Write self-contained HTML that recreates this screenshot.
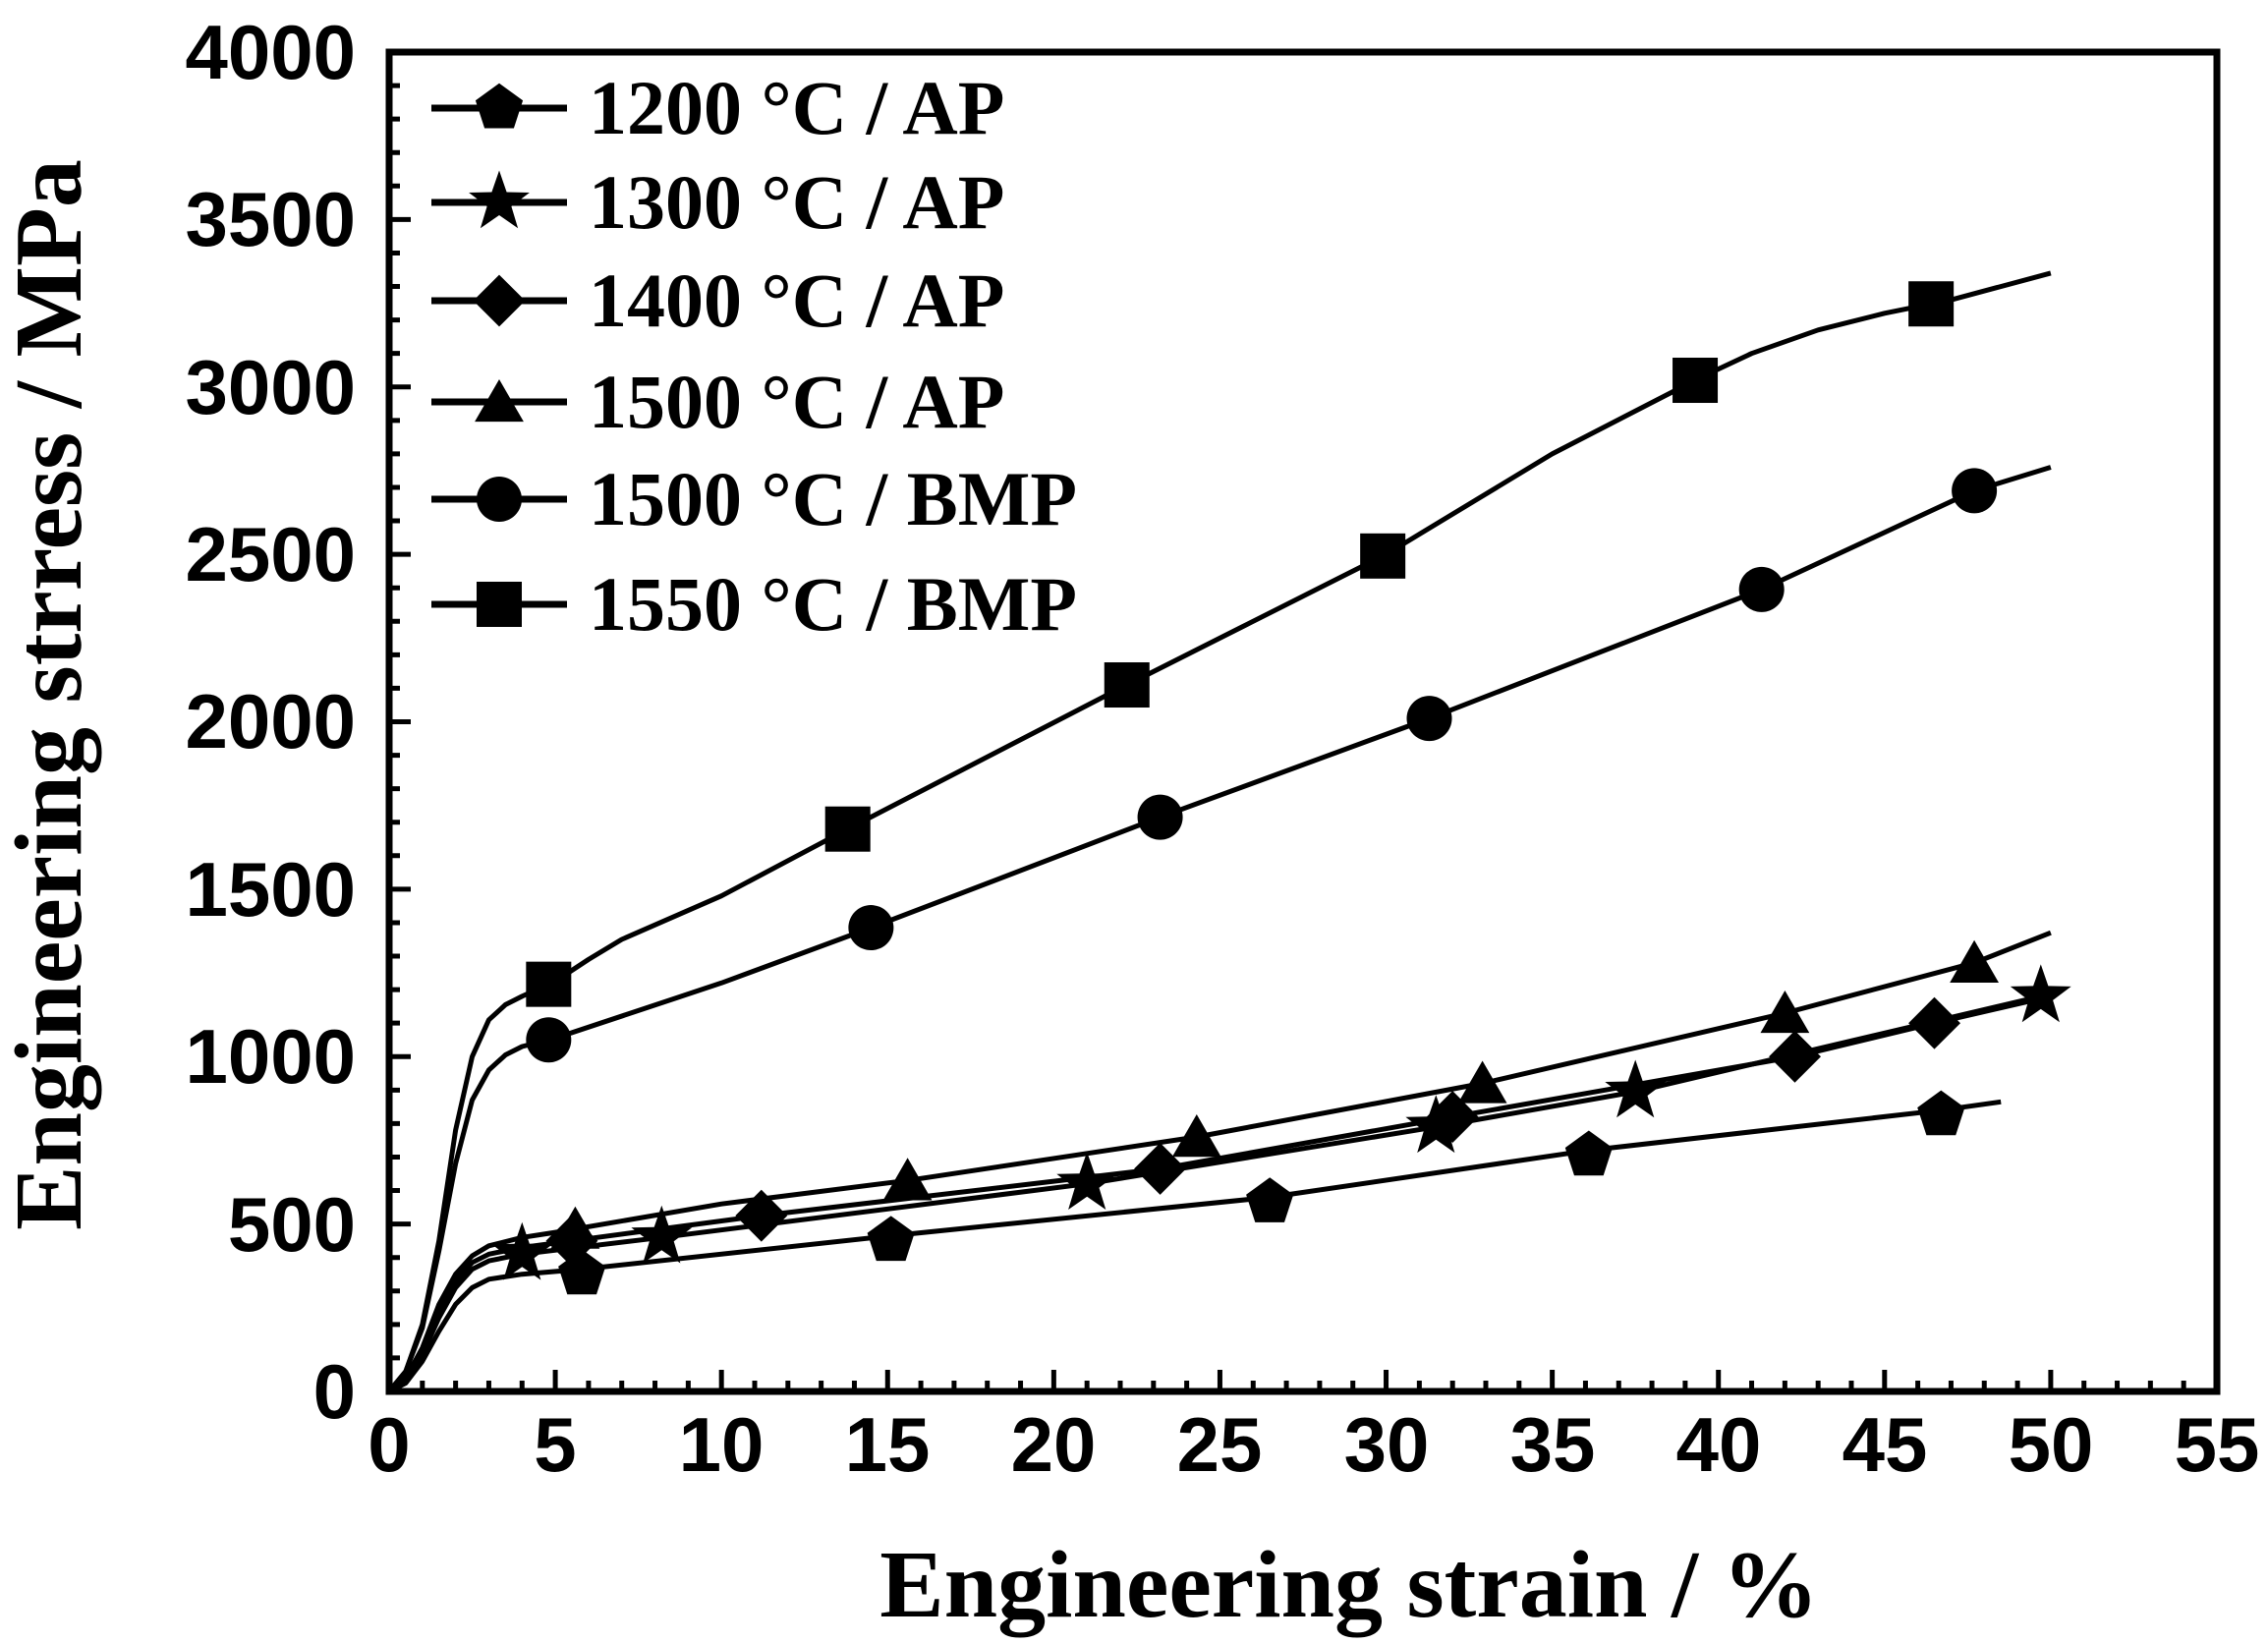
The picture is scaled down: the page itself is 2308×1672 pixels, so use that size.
<!DOCTYPE html>
<html><head><meta charset="utf-8"><style>
html,body{margin:0;padding:0;background:#fff}
svg{display:block}
.tl{font-family:"Liberation Sans",Arial,sans-serif;font-weight:bold;font-size:78px}
.lg{font-family:"Liberation Serif",serif;font-weight:bold;font-size:78px}
.at{font-family:"Liberation Serif",serif;font-weight:bold;font-size:98px}
</style></head><body>
<svg id="s" width="2308" height="1672" viewBox="0 0 2308 1672" xmlns="http://www.w3.org/2000/svg">
<rect x="0" y="0" width="2308" height="1672" fill="#fff"/>
<g id="ticks"></g>
<g id="curves" fill="none" stroke="#000" stroke-width="5"></g>
<g id="marks" fill="#000"></g>
<rect x="396" y="53" width="1860" height="1363" fill="none" stroke="#000" stroke-width="7"/>
<g class="tl" text-anchor="end">
<text x="362" y="1443">0</text>
<text x="362" y="1273">500</text>
<text x="362" y="1102">1000</text>
<text x="362" y="932">1500</text>
<text x="362" y="761">2000</text>
<text x="362" y="591">2500</text>
<text x="362" y="421">3000</text>
<text x="362" y="250">3500</text>
<text x="362" y="80">4000</text>
</g>
<g class="tl" text-anchor="middle">
<text x="396" y="1497">0</text>
<text x="565" y="1497">5</text>
<text x="734" y="1497">10</text>
<text x="903" y="1497">15</text>
<text x="1072" y="1497">20</text>
<text x="1241" y="1497">25</text>
<text x="1411" y="1497">30</text>
<text x="1580" y="1497">35</text>
<text x="1749" y="1497">40</text>
<text x="1918" y="1497">45</text>
<text x="2087" y="1497">50</text>
<text x="2256" y="1497">55</text>
</g>
<text class="at" x="1373" y="1645" text-anchor="middle">Engineering strain / %</text>
<text class="at" transform="translate(82,707) rotate(-90)" text-anchor="middle">Engineering strress / MPa</text>
<g class="lg">
<text x="599" y="136">1200 °C / AP</text>
<text x="599" y="232">1300 °C / AP</text>
<text x="599" y="332">1400 °C / AP</text>
<text x="599" y="435">1500 °C / AP</text>
<text x="599" y="534">1500 °C / BMP</text>
<text x="599" y="641">1550 °C / BMP</text>
</g>
<g id="leg" stroke="#000" stroke-width="7"></g>
</svg>
<script>
var NS="http://www.w3.org/2000/svg";
function X(v){return 396+v*33.818;}
function Y(v){return 1416-v*0.34075;}
function el(p,t,a){var e=document.createElementNS(NS,t);for(var k in a)e.setAttribute(k,a[k]);p.appendChild(e);return e;}
var tk=document.getElementById('ticks'),d="";
for(var i=1;i<55;i++){var L=(i%5==0)?22:11;d+="M"+X(i)+" 1416V"+(1416-L);}
for(var j=100;j<4000;j+=100){var L=(j%500==0)?22:11;d+="M396 "+Y(j)+"H"+(396+L);}
el(tk,'path',{d:d,stroke:'#000','stroke-width':5,fill:'none'});
function mark(g,type,cx,cy,s){
 s=s||23;
 if(type=='sq')el(g,'rect',{x:cx-s,y:cy-s,width:2*s,height:2*s});
 else if(type=='ci')el(g,'circle',{cx:cx,cy:cy,r:s});
 else{var n,r1,r2,pts=[];
  if(type=='tri'){n=3;r1=s*1.25;r2=null;}
  if(type=='dia'){n=4;r1=s*1.15;r2=null;}
  if(type=='pen'){n=5;r1=s*1.1;r2=null;}
  if(type=='star'){n=5;r1=s*1.25;r2=s*0.5;}
  var m=r2?2*n:n;
  for(var k=0;k<m;k++){var r=(r2&&k%2)?r2:r1;var a=-Math.PI/2+k*2*Math.PI/m;pts.push((cx+r*Math.cos(a)).toFixed(1)+","+(cy+r*Math.sin(a)+(type=='tri'?s*0.25:0)).toFixed(1));}
  el(g,'polygon',{points:pts.join(' ')});}
}
function interp(pts,x){for(var i=0;i<pts.length-1;i++){if(x>=pts[i][0]&&x<=pts[i+1][0]){var t=(x-pts[i][0])/(pts[i+1][0]-pts[i][0]);return pts[i][1]+t*(pts[i+1][1]-pts[i][1]);}}return pts[pts.length-1][1];}
var series=[
 {t:'sq',p:[[0,0],[0.5,60],[1,200],[1.5,450],[2,780],[2.5,1000],[3,1110],[3.5,1155],[4,1180],[5,1225],[6,1290],[7,1350],[10,1480],[14,1690],[22,2100],[30,2500],[35,2800],[39.5,3030],[41,3100],[43,3170],[45,3220],[47,3260],[50,3340]],m:[4.8,13.8,22.2,29.9,39.3,46.4]},
 {t:'ci',p:[[0,0],[0.5,60],[1,190],[1.5,420],[2,680],[2.5,870],[3,960],[3.5,1005],[4,1030],[5,1055],[10,1220],[14.5,1385],[23.2,1715],[31.3,2010],[41.3,2395],[47.7,2690],[50,2760]],m:[4.8,14.5,23.2,31.3,41.3,47.7]},
 {t:'tri',p:[[0,0],[0.5,40],[1,130],[1.5,260],[2,350],[2.5,405],[3,435],[4,460],[5,475],[10,560],[15.6,630],[24.3,760],[32.9,920],[42,1130],[47.7,1280],[50,1370]],m:[5.6,15.6,24.3,32.9,42,47.7]},
 {t:'dia',p:[[0,0],[0.5,35],[1,120],[1.5,240],[2,330],[2.5,385],[3,410],[4,430],[5.5,450],[11.2,525],[23.2,665],[32,820],[42.3,1000],[46.5,1100],[50,1180]],m:[5.5,11.2,23.2,32,42.3,46.5]},
 {t:'star',p:[[0,0],[0.5,30],[1,110],[1.5,220],[2,310],[2.5,365],[3,390],[4,410],[8.2,460],[21,620],[31.5,790],[37.5,895],[49.7,1180]],m:[4,8.2,21,31.5,37.5,49.7]},
 {t:'pen',p:[[0,0],[0.5,25],[1,90],[1.5,180],[2,260],[2.5,310],[3,335],[4,350],[5.8,365],[15.1,465],[26.5,580],[36.1,720],[46.7,840],[48.5,865]],m:[5.8,15.1,26.5,36.1,46.7]}
];
var cg=document.getElementById('curves'),mg=document.getElementById('marks');
series.forEach(function(s){
 var dd="";s.p.forEach(function(q,i){dd+=(i?"L":"M")+X(q[0]).toFixed(1)+" "+Y(q[1]).toFixed(1);});
 el(cg,'path',{d:dd,'stroke-linejoin':'round'});
 s.m.forEach(function(x){var ys=(s.t=='pen')?interp(s.p,x)-15:interp(s.p,x);mark(mg,s.t,X(x),Y(ys),s.t=='star'?26:23);});
});
var lg=document.getElementById('leg');
var ly=[110,206,306,409,508,615],lt=['pen','star','dia','tri','ci','sq'];
ly.forEach(function(y,i){el(lg,'line',{x1:439,y1:y,x2:577,y2:y});var g=el(lg,'g',{fill:'#000',stroke:'none'});mark(g,lt[i],508,y,lt[i]=='star'?26:23);});
</script>
</body></html>
